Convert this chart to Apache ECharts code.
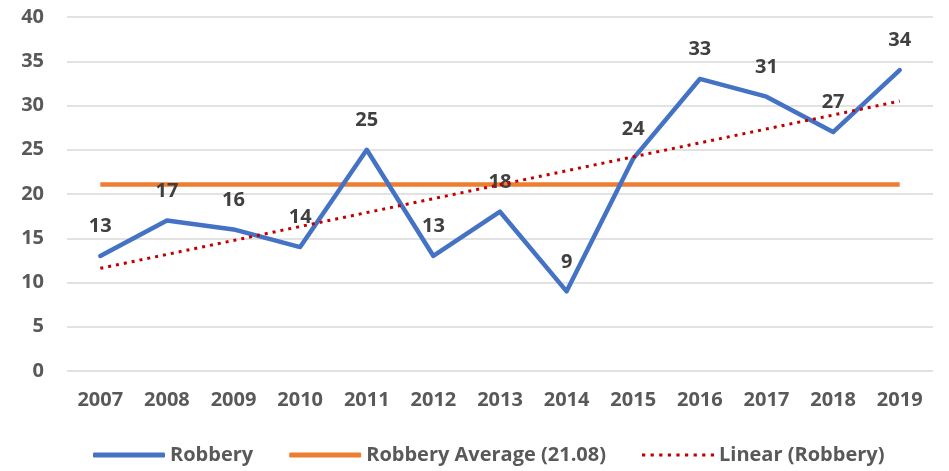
<!DOCTYPE html>
<html>
<head>
<meta charset="utf-8">
<script src="https://cdn.jsdelivr.net/npm/echarts@6/dist/echarts.min.js"></script>
<style>
  html, body { margin: 0; padding: 0; background: #fff; }
  #chart { width: 949px; height: 471px; }
</style>
</head>
<body>
<div id="chart"></div>
<script>
const years = ['2007', '2008', '2009', '2010', '2011', '2012', '2013', '2014', '2015', '2016', '2017', '2018', '2019']
const robbery = [13, 17, 16, 14, 25, 13, 18, 9, 24, 33, 31, 27, 34]
// average and trend end points
const average = [21.08, null, null, null, null, null, null, null, null, null, null, null, 21.08]
const trend = [11.6, null, null, null, null, null, null, null, null, null, null, null, 30.5]

const font = '"Open Sans", sans-serif'
const dots = 'path://M0 0h3v3h-3zM8 0h3v3h-3zM16 0h3v3h-3zM24 0h3v3h-3zM32 0h3v3h-3zM40 0h3v3h-3zM48 0h3v3h-3zM56 0h3v3h-3zM64 0h3v3h-3z'
const chart = echarts.init(document.getElementById('chart'))

chart.setOption({
  animation: false,
  grid: { left: 67, right: 16, top: 17, bottom: 100 },
  xAxis: {
    type: 'category',
    data: years,
    boundaryGap: true,
    axisLine: { show: false },
    axisTick: { show: false },
    axisLabel: { color: '#595959', fontFamily: font, fontWeight: 'bold', fontSize: 20, margin: 19 }
  },
  yAxis: {
    type: 'value',
    min: 0,
    max: 40,
    interval: 5,
    axisLabel: { color: '#595959', fontFamily: font, fontWeight: 'bold', fontSize: 20, margin: 23 },
    splitLine: { lineStyle: { color: '#d9d9d9', width: 1.5 } }
  },
  legend: {
    bottom: 1,
    left: 88,
    itemWidth: 72,
    itemHeight: 5,
    itemGap: 36,
    textStyle: { color: '#595959', fontFamily: font, fontWeight: 'bold', fontSize: 20 },
    data: [
      { name: 'Robbery', icon: 'roundRect' },
      { name: 'Robbery Average (21.08)', icon: 'roundRect' },
      { name: 'Linear (Robbery)', icon: dots }
    ]
  },
  series: [
    {
      name: 'Robbery Average (21.08)',
      type: 'line',
      data: average,
      connectNulls: true,
      symbol: 'none',
      color: '#ED7D31',
      lineStyle: { color: '#ED7D31', width: 4.5 },
      z: 2
    },
    {
      name: 'Linear (Robbery)',
      type: 'line',
      data: trend,
      connectNulls: true,
      symbol: 'none',
      color: '#C00000',
      lineStyle: { color: '#C00000', width: 3, type: [3, 5] },
      z: 4
    },
    {
      name: 'Robbery',
      type: 'line',
      data: robbery,
      symbol: 'circle',
      symbolSize: 1,
      showSymbol: true,
      color: '#4472C4',
      itemStyle: { color: '#4472C4' },
      lineStyle: { color: '#4472C4', width: 4.5, cap: 'round', join: 'round' },
      label: {
        show: true,
        position: 'top',
        distance: 19,
        color: '#404040',
        fontFamily: font,
        fontWeight: 'bold',
        fontSize: 20
      },
      z: 3
    }
  ]
})
</script>
</body>
</html>
